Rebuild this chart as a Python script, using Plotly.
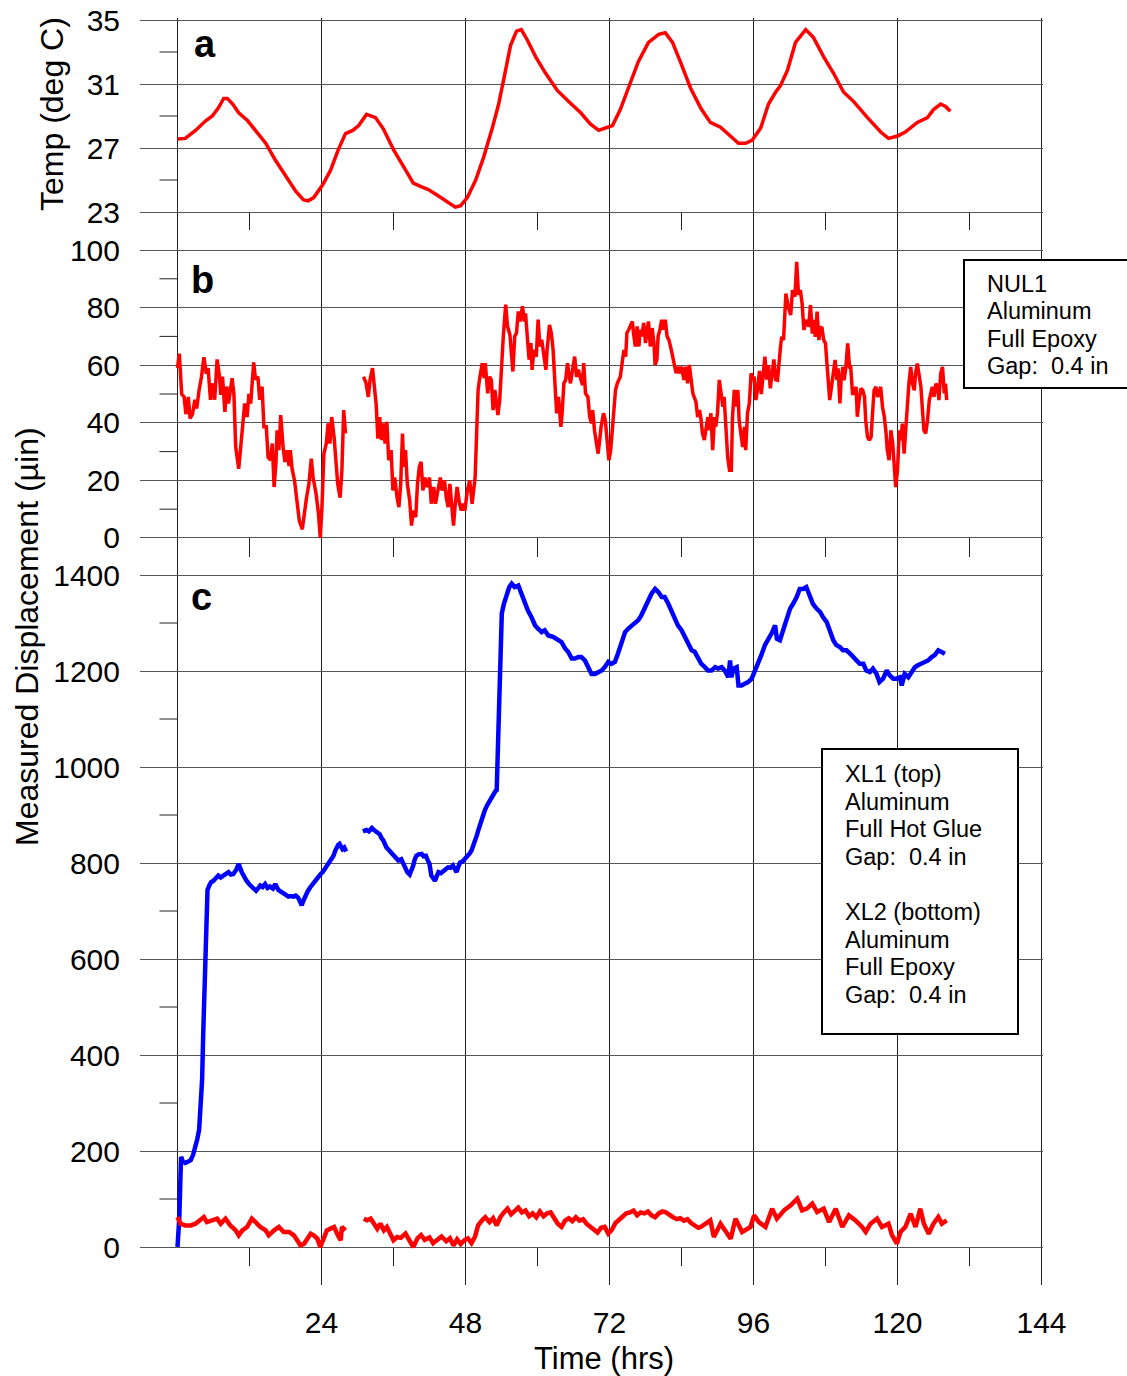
import plotly.graph_objects as go

# ---------------- data ----------------
# Panel a: temperature (deg C) vs time (hrs)
temp_t = [0, 1.3, 3, 4.7, 5.8, 6.8, 7.7, 8.3, 9.2, 10.2, 11.7, 13, 14.7, 16.3, 18, 19.7, 21, 21.8,
          22.7, 24.2, 25.5, 26.8, 28, 29.2, 30.2, 31.5, 33, 34.3, 36, 37.7, 39.3, 40.5, 41.8, 43.5,
          45.2, 46.3, 47.2, 48.3, 49.7, 51, 52.5, 53.5, 54.7, 55.5, 56.5, 57.3, 58.3, 59.7, 61.3,
          63.3, 65.5, 67.2, 68.8, 70.2, 71.3, 72.5, 73.8, 75.2, 76.8, 78.5, 80.2, 81.3, 82.5, 83.8,
          85.5, 87.2, 88.8, 90.5, 92.2, 93.5, 94.7, 95.8, 97.2, 98.5, 99.7, 100.5, 101.7, 103,
          104.7, 106, 107.7, 109.3, 111, 112.7, 115, 117.2, 118.5, 120, 121.3, 123.3, 125, 126,
          127.2, 128, 128.8]
temp_v = [27.56, 27.6, 28.1, 28.7, 29.0, 29.5, 30.1, 30.1, 29.75, 29.2, 28.7, 28.1, 27.3, 26.25,
          25.3, 24.3, 23.75, 23.7, 23.9, 24.7, 25.6, 26.9, 27.9, 28.1, 28.4, 29.1, 28.9, 28.2, 26.9,
          25.8, 24.8, 24.6, 24.4, 24.0, 23.6, 23.3, 23.4, 23.9, 25.0, 26.4, 28.3, 29.7, 31.9, 33.4,
          34.3, 34.4, 33.75, 32.7, 31.7, 30.6, 29.8, 29.2, 28.5, 28.1, 28.25, 28.4, 29.4, 30.75,
          32.4, 33.6, 34.1, 34.2, 33.6, 32.4, 30.75, 29.5, 28.6, 28.3, 27.7, 27.3, 27.3, 27.5,
          28.25, 29.75, 30.5, 30.9, 31.9, 33.6, 34.4, 33.9, 32.7, 31.7, 30.5, 29.9, 28.9, 28.0,
          27.6, 27.75, 28.0, 28.6, 28.9, 29.4, 29.75, 29.6, 29.3]

# Panel b: NUL1 displacement (micro-inch); None marks the data gap
nul1_t = [0, 0.3, 0.7, 1.1, 1.4, 1.8, 2.1, 2.5, 2.9, 3.2, 3.6, 4.0, 4.4, 4.8, 5.1, 5.5, 5.9, 6.2,
          6.6, 7.0, 7.2, 7.5, 7.9, 8.2, 8.5, 8.8, 9.1, 9.4, 9.7, 10.2, 10.6, 10.9, 11.2, 11.6, 11.9,
          12.2, 12.7, 13.0, 13.4, 13.7, 14.1, 14.4, 14.8, 15.1, 15.5, 15.8, 16.1, 16.4, 16.6, 16.9,
          17.2, 17.6, 17.9, 18.2, 18.6, 18.8, 19.1, 19.5, 19.9, 20.3, 20.8, 21.2, 21.5, 21.9, 22.3,
          22.6, 23.1, 23.5, 23.8, 24.1, 24.4, 24.8, 25.1, 25.4, 25.7, 26.1, 26.4, 26.7, 27.1, 27.4,
          27.7, 28.0, 29.5,
          31.0, 31.4, 31.8, 32.1, 32.5, 32.9, 33.1, 33.4, 33.7, 34.0, 34.3, 34.6, 34.9, 35.2, 35.6,
          35.9, 36.2, 36.6, 36.9, 37.2, 37.5, 37.7, 38.0, 38.3, 38.7, 39.0, 39.3, 39.7, 40.0, 40.3,
          40.6, 40.9, 41.2, 41.6, 42.0, 42.3, 42.7, 43.0, 43.4, 43.8, 44.1, 44.5, 44.8, 45.1, 45.4,
          45.7, 46.0, 46.3, 46.6, 47.0, 47.3, 47.6, 47.9, 48.3, 48.7, 49.1, 49.6, 49.8, 50.1, 50.4,
          50.8, 51.1, 51.3, 51.7, 52.0, 52.3, 52.6, 52.9, 53.2, 53.4, 53.7, 54.0, 54.3, 54.7, 55.0,
          55.4, 55.6, 55.9, 56.2, 56.5, 56.8, 57.1, 57.5, 57.8, 58.0, 58.3, 58.6, 58.9, 59.1, 59.4,
          59.8, 60.1, 60.4, 60.7, 61.1, 61.4, 61.6, 62.0, 62.3, 62.6, 63.0, 63.2, 63.5, 63.9, 64.1,
          64.4, 64.7, 65.0, 65.3, 65.5, 65.8, 66.2, 66.5, 66.8, 67.1, 67.5, 67.7, 68.0, 68.4, 68.7,
          69.0, 69.2, 69.5, 69.8, 70.1, 70.3, 70.6, 71.0, 71.3, 71.6, 71.9, 72.2, 72.4, 72.7, 73.0,
          73.3, 73.6, 73.8, 74.1, 74.4, 74.7, 74.9, 75.2, 75.5, 75.8, 76.0, 76.3, 76.6, 76.9, 77.1,
          77.4, 77.7, 78.0, 78.3, 78.5, 78.8, 79.1, 79.4, 79.6, 79.9, 80.1, 80.4, 80.7, 81.0, 81.3,
          81.6, 81.9, 82.3, 82.5, 82.8, 83.1, 83.4, 83.7, 84.0, 84.4, 84.7, 85.0, 85.3, 85.6, 85.9,
          86.1, 86.4, 86.7, 87.0, 87.2, 87.5, 87.8, 88.1, 88.4, 88.6, 88.9, 89.2, 89.5, 89.7, 90.0,
          90.3, 90.6, 90.9, 91.1, 91.4, 91.7, 92.0, 92.3, 92.5, 92.8, 93.1, 93.4, 93.6, 93.9, 94.2,
          94.5, 94.7, 95.0, 95.3, 95.6, 95.9, 96.1, 96.4, 96.7, 97.0, 97.3, 97.6, 97.9, 98.2, 98.5,
          98.8, 99.1, 99.4, 99.7, 100.0, 100.5, 100.7, 101.0, 101.4, 101.8, 102.2, 102.5, 102.9,
          103.2, 103.5, 103.8, 104.1, 104.4, 104.6, 104.9, 105.2, 105.5, 105.8, 106.0, 106.3, 106.6,
          106.9, 107.1, 107.4, 107.7, 108.0, 108.2, 108.5, 108.7, 109.0, 109.3, 109.6, 109.9, 110.1,
          110.4, 110.6, 110.9, 111.1, 111.4, 111.7, 112.0, 112.2, 112.5, 112.8, 113.1, 113.3, 113.6,
          113.9, 114.2, 114.5, 114.7, 115.0, 115.3, 115.6, 115.8, 116.1, 116.4, 116.7, 116.9, 117.2,
          117.5, 117.8, 118.1, 118.3, 118.6, 118.9, 119.2, 119.4, 119.7, 120.0, 120.3, 120.6, 120.8,
          121.1, 121.4, 121.7, 121.9, 122.2, 122.5, 122.8, 123.0, 123.3, 123.6, 123.9, 124.2, 124.4,
          124.7, 125.0, 125.3, 125.5, 125.8, 126.1, 126.4, 126.7, 126.9, 127.2, 127.5, 127.8, 128.0,
          128.2]
nul1_v = [59, 64, 50, 49, 43, 49, 41.5, 43, 48, 45, 51.4, 56, 62.8, 57, 59, 48, 53.7, 48,
          62, 56, 49.7, 56, 43.8, 52.6, 46.7, 52, 55.5, 50, 31.6, 24, 34, 42, 46.7, 42, 50,
          46.7, 61, 55, 56, 48, 52.6, 38.6, 38.6, 28, 27, 32.8, 17.7, 25.8, 37.4, 30.5,
          42.7, 31.6, 26.4, 30.5, 25, 30.5, 24, 20, 14, 6, 3, 10.7, 14, 18.8, 27.5,
          21, 15.3, 8.4, 0, 11.9, 29.3, 32.8, 39.8, 32.8, 42, 35, 28, 18.8, 14, 23.5,
          44.4, 36.3, None,
          56, 54, 49, 55, 59, 51.4, 46.7, 34.5, 42, 34, 39.8, 32.8, 40.3, 27, 30.5,
          16.5, 21, 14, 10.7, 18.8, 36.3, 24.7, 30.5, 18.8, 13, 4.3, 9.5, 7.2, 18.8, 24.7,
          26.4, 16.5, 21, 17.7, 21, 11.9, 17.7, 11.9, 16.5, 21, 16.5, 20, 14, 10.7, 18.8,
          10.7, 4.3, 11.9, 17.7, 11.9, 9.5, 11.9, 9.5, 16.5, 20, 11.9, 21, 32.8, 51.4, 56,
          60.7, 55.5, 60.7, 50.2, 56, 54.9, 44.4, 51.4, 46.7, 42.7, 47.9, 60.7, 70, 81, 73.5,
          70.6, 65.3, 57.8, 70, 71.2, 78.7, 75.2, 80.5, 75.2, 78, 70, 61.9, 67.7, 58.4, 65.3,
          63, 75.8, 66.5, 68.8, 63, 58.4, 65.3, 74, 71.2, 65.3, 50.2, 43.3, 49, 38.6, 43.3,
          53.7, 54.9, 60.7, 56, 53.7, 57.8, 63, 56, 58.4, 56, 53.1, 60.7, 50.2, 49, 42,
          39.8, 44.4, 37.4, 32.8, 29.3, 32.8, 38.6, 43.3, 40.9, 34, 27, 30.5, 36.3, 44.4, 51.4,
          53.7, 54.9, 56, 60.7, 65.3, 63, 71.2, 72.3, 73.5, 75.2, 71.2, 66.5, 73.5, 66.5, 72.3,
          70, 74.7, 67.7, 72.3, 75.2, 66.5, 72.9, 67.7, 60.1, 61.9, 70, 72.3, 75.8, 72.3, 75.8,
          70, 68.8, 65.3, 63, 60.7, 57.2, 59.5, 57.2, 59.5, 54.9, 59.5, 53.7, 60.1, 53.7, 50.2,
          49, 47.3, 42, 44.4, 42, 36.3, 34, 38.6, 42, 37.4, 43.3, 30.5, 42, 38.6, 43.3,
          54.9, 49, 45.6, 49, 37.4, 28, 23.5, 23.5, 42, 51.4, 45.6, 51.4, 40.9, 36.3, 31.6,
          38.6, 30.5, 43.3, 46.7, 57.2, 54.9, 56, 47.9, 52, 58, 50, 56, 63, 55, 60,
          52, 58, 62, 55, 54.8, 66.4, 69.9, 68.7, 84.9, 80.3, 77.4, 86.1, 83.8,
          95.9, 84.4, 86.1, 81.5, 72.2, 74.5, 75.7, 73.3, 80.9, 71, 75.7, 69.9, 78.6,
          68.7, 72.8, 73.3, 68.7, 67.6, 61.8, 54.8, 47.9, 52.5, 57.1, 61.8, 54.8, 58.9,
          46.7, 54.8, 59.4, 54.8, 59.4, 67.6, 59.4, 59.4, 50.2, 50.2, 52.5, 42.1, 47.9,
          51.9, 51.3, 49, 40.9, 35.1, 34, 35.1, 42.1, 51.3, 52.5, 49, 50.2, 52.5,
          45.5, 42.1, 36.3, 30.5, 27, 37.4, 32.8, 27, 17.7, 23.5, 37.4, 34, 39.7,
          29.3, 38.6, 49, 53.6, 59.4, 53.6, 51.3, 57.1, 60.6, 57.1, 52.5, 43.2, 37.4,
          36.3, 40.9, 47.9, 50.2, 52.5, 49, 53.6, 52.5, 47.9, 57.1, 59.4, 50.2, 53.6,
          47.9]

# Panel c: XL1 (top, blue) displacement (micro-inch)
xl1_t = [0, 0.3, 0.5, 0.6, 0.9, 1.3, 1.8, 2.2, 2.6, 3.0, 3.3, 3.6, 3.9, 4.1, 4.3, 4.5, 4.7, 4.8,
         5.0, 5.3, 5.6, 6.0, 6.4, 6.8, 7.2, 7.7, 8.1, 8.5, 8.9, 9.3, 9.8, 10.2, 10.7, 11.1, 11.5,
         12.0, 12.4, 12.8, 13.1, 13.5, 13.8, 14.2, 14.6, 15.0, 15.4, 15.9, 16.3, 16.8, 17.2, 17.6,
         18.0, 18.5, 18.9, 19.3, 19.7, 20.1, 20.4, 20.7, 21.0, 21.3, 21.7, 22.1, 22.5, 22.9, 23.3,
         23.8, 24.2, 24.6, 25.0, 25.4, 25.7, 26.0, 26.3, 26.5, 26.8, 27.0, 27.3, 27.5, 27.8, 28.1,
         29.5,
         30.9, 31.5, 31.9, 32.4, 32.8, 33.2, 33.7, 34.0, 34.3, 34.8, 35.1, 35.4, 35.8, 36.1, 36.5,
         36.8, 37.3, 37.6, 37.9, 38.1, 38.3, 38.7, 39.0, 39.3, 39.5, 39.8, 40.2, 40.7, 41.0, 41.4,
         41.7, 42.0, 42.3, 42.6, 42.9, 43.2, 43.5, 43.9, 44.3, 44.7, 45.1, 45.5, 45.9, 46.2, 46.5,
         46.8, 47.1, 47.5, 47.9, 48.4, 48.7, 49.0, 49.3, 49.6, 49.9, 50.1, 50.4, 50.7, 51.0, 51.2,
         51.6, 52.0, 52.4, 52.7, 53.0, 53.2, 53.4, 53.6, 53.8, 54.05, 54.4, 54.8, 55.3, 55.7, 56.2,
         56.8, 57.3, 57.9, 58.4, 59.0, 59.6, 60.1, 60.7, 61.2, 61.8, 62.6, 63.4, 64.0, 64.6, 65.1,
         65.7, 66.2, 66.8, 67.3, 67.9, 68.4, 69.0, 69.6, 70.1, 70.7, 71.2, 71.8, 72.3, 72.9, 73.4,
         74.0, 74.6, 75.1, 75.7, 76.2, 76.8, 77.3, 77.9, 78.4, 79.0, 79.6, 80.1, 80.7, 81.2, 81.8,
         82.3, 82.9, 83.4, 84.0, 84.6, 85.1, 85.7, 86.2, 86.8, 87.3, 87.9, 88.4, 89.0, 89.6, 90.1,
         90.7, 91.2, 91.8, 92.1, 92.3, 92.7, 93.2, 93.5, 94.0, 94.6, 95.1, 95.7, 96.2, 96.8, 97.3,
         97.9, 98.4, 99.0, 99.6, 99.9, 100.4, 100.9, 101.5, 102.1, 102.6, 103.2, 103.7, 104.3,
         104.8, 105.4, 105.9, 106.5, 107.1, 107.6, 108.2, 108.7, 109.3, 109.8, 110.4, 110.9, 111.5,
         112.1, 112.6, 113.2, 113.7, 114.3, 114.8, 115.4, 115.9, 116.5, 117.0, 117.6, 118.2, 118.7,
         119.3, 119.8, 120.4, 120.7, 121.2, 121.8, 122.3, 122.9, 123.4, 124.0, 124.6, 125.1, 125.7,
         126.2, 126.8, 127.3, 127.9]
xl1_v = [0, 60, 150, 188, 178, 175, 178, 181, 192, 209, 225, 244, 290, 348, 450, 560, 680, 722,
         744, 753, 760, 763, 768, 774, 770, 774, 776, 781, 776, 777, 786, 798, 781, 770, 763,
         755, 751, 745, 742, 748, 753, 750, 756, 748, 751, 747, 756, 744, 740, 736,
         733, 730, 731, 730, 732, 728, 720, 712, 722, 732, 741, 749, 756, 763, 770,
         776, 781, 788, 794, 801, 808, 815, 826, 833, 838, 840, 835, 829, 832, 824,
         None,
         866, 869, 866, 873, 868, 864, 860, 852, 847, 833, 829, 826, 820, 815, 808,
         805, 808, 800, 795, 786, 781, 776, 784, 795, 806, 815, 818, 819, 814, 815,
         806, 798, 774, 768, 763, 772, 781, 779, 784, 788, 791, 790, 795, 788, 781,
         792, 801, 803, 808, 815, 820, 826, 835, 847, 858, 867, 880, 892, 902, 909,
         920, 930, 940, 946, 950, 952, 1040, 1139, 1271, 1320, 1340, 1354, 1375, 1382, 1375,
         1378, 1361, 1340, 1326, 1312, 1295, 1288, 1281, 1285, 1274, 1271, 1264, 1260, 1247, 1240,
         1226, 1226, 1229, 1229, 1222, 1208, 1194, 1194, 1198, 1201, 1208, 1219, 1215, 1219, 1236,
         1257, 1281, 1288, 1295, 1299, 1306, 1316, 1333, 1347, 1361, 1371, 1365, 1354, 1354, 1340,
         1326, 1312, 1295, 1285, 1271, 1257, 1243, 1240, 1226, 1215, 1208, 1201, 1201, 1208, 1205,
         1208, 1201, 1187, 1222, 1187, 1205, 1208, 1170, 1170, 1174, 1177, 1184, 1198, 1215, 1233,
         1254, 1264, 1278, 1295, 1267, 1264, 1285, 1306, 1330, 1340, 1354, 1371, 1371,
         1375, 1354, 1340, 1330, 1323, 1312, 1302, 1285, 1264, 1254, 1250, 1243, 1243,
         1236, 1229, 1222, 1215, 1215, 1201, 1198, 1205, 1194, 1177, 1184, 1201, 1191,
         1184, 1184, 1187, 1170, 1194, 1187, 1198, 1208, 1212, 1215, 1219, 1222, 1229,
         1233, 1243, 1240, 1236]

# Panel c: XL2 (bottom, red) displacement (micro-inch)
xl2_t = [0, 0.5, 1.3, 2.2, 3.0, 3.8, 4.4, 4.9, 5.8, 6.6, 7.2, 8.0, 8.8, 9.7, 10.2, 10.8, 11.6, 12.4,
         13.0, 13.8, 14.7, 15.2, 16.1, 16.9, 17.7, 18.6, 19.4, 19.9, 20.5, 21.1, 21.6, 22.2, 22.7,
         23.3, 23.8, 24.4, 24.9, 25.5, 26.1, 26.6, 27.2, 27.4, 28.0, 29.5,
         31.05, 31.6, 32.2, 32.7, 33.3, 33.8, 34.4, 34.9, 35.5, 36.0, 36.6, 37.2, 38.0, 38.7, 39.3,
         40.0, 40.6, 41.2, 42.0, 42.6, 43.4, 44.0, 44.8, 45.4, 46.0, 46.6, 47.2, 47.8, 48.4, 49.0,
         49.6, 50.1, 50.8, 51.3, 52.0, 52.6, 53.2, 53.8, 54.4, 55.0, 55.6, 56.2, 56.8, 57.4, 58.0,
         58.6, 59.2, 59.8, 60.4, 61.0, 61.6, 62.2, 62.8, 63.4, 64.0, 64.6, 65.2, 65.8, 66.4, 67.0,
         67.6, 68.2, 68.8, 69.4, 70.0, 70.6, 71.2, 71.8, 72.4, 73.0, 73.6, 74.2, 74.8, 75.4, 76.0,
         76.6, 77.2, 77.8, 78.4, 79.0, 79.6, 80.2, 80.8, 81.4, 82.0, 82.6, 83.2, 83.8, 84.4, 85.0,
         85.6, 86.2, 86.8, 87.2, 88.8, 89.4, 90.5, 92.2, 93.0, 94.1, 95.5, 96.1, 96.9, 98.0, 99.1,
         99.9, 101.1, 102.2, 103.3, 104.1, 104.9, 105.8, 106.6, 107.7, 108.6, 109.7, 110.8, 111.9,
         113.0, 114.1, 114.7, 115.5, 116.6, 117.4, 118.5, 119.1, 119.9, 120.5, 121.3, 122.2, 123.0,
         123.8, 124.4, 125.2, 126.0, 126.8, 127.4, 128.2]
xl2_v = [62.5, 48.6, 45, 45, 48.6, 55.5, 62.5, 52, 55.5, 59, 48.6, 59, 45, 34.7, 24.3, 34.7, 41.7, 59,
         52, 41.7, 34.7, 24.3, 34.7, 41.7, 31.3, 31.3, 24.3, 13.9, 3.5, 6.9, 17.4, 27.8, 24.3,
         17.4, 0, 17.4, 34.7, 38.2, 41.7, 27.8, 13.9, 41.7, 34.7, None,
         59, 55.5, 59, 48.6, 38.2, 48.6, 34.7, 41.7, 24.3, 13.9, 20.8, 19, 28, 12, 0,
         18, 25, 15, 20, 8, 16, 22, 12, 18, 3, 16, 6, 14, 18, 8,
         22, 45, 56, 62, 52, 60, 45, 62, 72, 80, 68, 74, 82, 72, 76,
         64, 70, 62, 74, 64, 70, 72, 58, 48, 42, 55, 60, 54, 62, 55,
         58, 48, 42, 36, 30, 40, 42, 28, 36, 50, 56, 62, 70, 72, 76,
         66, 72, 70, 74, 66, 62, 70, 74, 72, 66, 62, 58, 60, 55, 58,
         50, 46, 40, 41.7, 55.5, 21, 48.6, 17.4, 59, 31.3, 41.7, 65.9, 52, 41.7, 79.9,
         59, 76.4, 86.8, 100.7, 76.4, 79.9, 90.3, 72.9, 79.9, 52, 79.9, 41.7, 65.9,
         55.5, 41.7, 31.3, 48.6, 59, 41.7, 48.6, 24.3, 7, 31.3, 41.7, 69.4, 41.7,
         79.9, 48.6, 27.8, 48.6, 62.5, 48.6, 55.5]

# Axis ticks
time_ticks = [24, 48, 72, 96, 120, 144]
temp_ticks = [23, 27, 31, 35]
nul1_ticks = [0, 20, 40, 60, 80, 100]
xl_ticks = [0, 200, 400, 600, 800, 1000, 1200, 1400]
temp_minor = [25, 29, 33]
nul1_minor = [10, 30, 50, 70, 90]
xl_minor = [100, 300, 500, 700, 900, 1100, 1300]
time_minor = [12, 36, 60, 84, 108, 132]

nul1_legend = ["NUL1", "Aluminum", "Full Epoxy", "Gap:  0.4 in"]
xl_legend = ["XL1 (top)", "Aluminum", "Full Hot Glue", "Gap:  0.4 in",
             "XL2 (bottom)", "Aluminum", "Full Epoxy", "Gap:  0.4 in"]

# ---------------- layout geometry (pixels) ----------------
W, H = 1127, 1376
L, R, T, B = 140, 1043, 18, 1285          # plot-area edges
PW, PH = R - L, B - T
PAD = 2                                   # extra room so edge grid lines are drawn


def px(x):
    return (x - L) / PW


def py(y):
    return (B - y) / PH


FONT = "Liberation Sans, Arial, sans-serif"
RED = "#ff0000"
BLUE = "#0000ff"

fig = go.Figure()

fig.add_trace(go.Scatter(x=temp_t, y=temp_v, mode="lines", xaxis="x", yaxis="y",
                         line=dict(color=RED, width=3.5), showlegend=False))
fig.add_trace(go.Scatter(x=nul1_t, y=nul1_v, mode="lines", xaxis="x2", yaxis="y2",
                         line=dict(color=RED, width=3.5), showlegend=False))
fig.add_trace(go.Scatter(x=xl1_t, y=xl1_v, mode="lines", xaxis="x3", yaxis="y3",
                         line=dict(color=BLUE, width=4.5), showlegend=False))
fig.add_trace(go.Scatter(x=xl2_t, y=xl2_v, mode="lines", xaxis="x3", yaxis="y3",
                         line=dict(color=RED, width=4.5), showlegend=False))

xrange = [-6.25, -6.25 + PW / 6.0]
dom_a = [py(250), 1.0]
dom_b = [py(575), py(250 - PAD)]
dom_c = [0.0, py(575 - PAD)]

xcommon = dict(range=xrange, domain=[0, 1], showgrid=True, gridcolor="#222", gridwidth=1,
               zeroline=False, showline=False, ticks="", fixedrange=True, automargin=False)
ycommon = dict(showgrid=True, gridcolor="#555", gridwidth=1.2, zeroline=False, showline=False,
               ticks="", ticklabelstandoff=19, fixedrange=True, automargin=False,
               tickfont=dict(family=FONT, size=30, color="black"))

fig.update_layout(
    width=W, height=H,
    margin=dict(l=L, r=W - R, t=T, b=H - B, autoexpand=False),
    paper_bgcolor="white", plot_bgcolor="rgba(0,0,0,0)",
    font=dict(family=FONT, color="black"),
    xaxis=dict(xcommon, anchor="y", tickmode="array", tickvals=[0] + time_ticks,
               showticklabels=False),
    xaxis2=dict(xcommon, anchor="y2", tickmode="array", tickvals=[0] + time_ticks,
                showticklabels=False),
    xaxis3=dict(xcommon, anchor="y3", tickmode="array", tickvals=time_ticks,
                ticktext=[str(v) for v in time_ticks], showticklabels=True,
                ticklabelstandoff=17, tickfont=dict(family=FONT, size=30, color="black")),
    yaxis=dict(ycommon, anchor="x", domain=dom_a, range=[20.625, 35.0 + PAD / 16.0],
               tickmode="array", tickvals=temp_ticks),
    yaxis2=dict(ycommon, anchor="x2", domain=dom_b, range=[-12.85, 100.0 + PAD / 2.88],
                tickmode="array", tickvals=nul1_ticks),
    yaxis3=dict(ycommon, anchor="x3", domain=dom_c, range=[-79.17, 1400.0 + PAD / 0.48],
                tickmode="array", tickvals=xl_ticks),
)

shapes = []
tick_style = dict(type="line", line=dict(color="#222", width=1), layer="below")

# minor ticks on the left, reaching back from the t = 0 line
for xa, ya, vals in (("x", "y", temp_minor), ("x2", "y2", nul1_minor), ("x3", "y3", xl_minor)):
    for v in vals:
        shapes.append(dict(tick_style, xref=xa, yref=ya, x0=-3, x1=0, y0=v, y1=v))

# minor ticks along each panel's baseline
for xa, ya, base, drop in (("x", "y", 23, 18 / 16), ("x2", "y2", 0, 19 / 2.88),
                           ("x3", "y3", 0, 19 / 0.48)):
    for t in time_minor:
        shapes.append(dict(tick_style, xref=xa, yref=ya, x0=t, x1=t, y0=base, y1=base - drop))

# t = 0 line of the bottom panel stops at its baseline
shapes.append(dict(type="line", xref="x3", yref="y3", x0=0, x1=0, y0=0, y1=1400,
                   line=dict(color="#222", width=1), layer="below"))

# description boxes
box_style = dict(type="rect", xref="paper", yref="paper", fillcolor="white",
                 line=dict(color="black", width=2), layer="above")
shapes.append(dict(box_style, x0=px(964), x1=px(1150), y0=py(388), y1=py(260)))
shapes.append(dict(box_style, x0=px(822), x1=px(1018), y0=py(1034), y1=py(749)))

annotations = []


def text(s, x, y, size, xanchor="center", angle=0):
    annotations.append(dict(text=s, x=px(x), y=py(y), xref="paper", yref="paper",
                            xanchor=xanchor, yanchor="middle", showarrow=False,
                            textangle=angle, font=dict(family=FONT, size=size, color="black")))


text("Temp (deg C)", 52, 114, 32, angle=-90)
text("Measured Displacement (\u00b5in)", 27, 637, 32, angle=-90)
text("Time (hrs)", 604, 1358, 31)
text("<b>a</b>", 192, 44.5, 38, xanchor="left")
text("<b>b</b>", 189, 279.5, 38, xanchor="left")
text("<b>c</b>", 189, 596.5, 38, xanchor="left")

for s, y in zip(nul1_legend, [284, 311, 339, 366]):
    text(s, 985, y, 23.5, xanchor="left")
for s, y in zip(xl_legend, [774, 802, 829, 857, 912, 940, 967, 995]):
    text(s, 843, y, 23.5, xanchor="left")

fig.update_layout(shapes=shapes, annotations=annotations)

fig.write_html("out.html")
